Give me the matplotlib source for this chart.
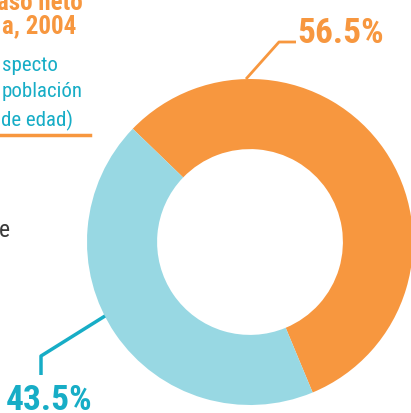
import matplotlib
matplotlib.use("Agg")
import matplotlib.pyplot as plt
from matplotlib import font_manager

labels = ["56.5%", "43.5%"]
shares = [56.5, 43.5]
colors = ["#F7973F", "#98D8E3"]
text_colors = ["#F7973F", "#17ADC6"]

# only the parts of the header that show inside the crop
title_lines = ["aso neto", "a, 2004"]
note_lines = ["specto", "población", "de edad)"]

names = {f.name for f in font_manager.fontManager.ttflist}
fam = "Roboto Condensed" if "Roboto Condensed" in names else "Roboto"
plt.rcParams["font.family"] = [fam, "DejaVu Sans"]

W, H = 411, 414
fig = plt.figure(figsize=(W / 100, H / 100), dpi=100)
ax = fig.add_axes([0, 0, 1, 1])


def py(y):
    # image row -> data y
    return H - y


cx, cy, r = 250, py(243), 163
ax.pie(shares, colors=colors, startangle=136, counterclock=False,
       center=(cx, cy), radius=r, wedgeprops=dict(width=r * 0.43, linewidth=0),
       frame=True)
ax.set_xlim(0, W)
ax.set_ylim(0, H)
ax.set_aspect("equal")
ax.axis("off")

# leader lines
ax.plot([246, 279, 296], [py(80), py(43), py(43)], color=text_colors[0], lw=2,
        solid_capstyle="butt")
ax.plot([105, 41, 41], [py(317), py(357), py(376)], color=text_colors[1], lw=2.5,
        solid_capstyle="butt")

ax.text(384, py(43), labels[0], color=text_colors[0], fontsize=25.5,
        fontweight="bold", ha="right", va="baseline")
ax.text(92, py(410), labels[1], color=text_colors[1], fontsize=25.5,
        fontweight="bold", ha="right", va="baseline")

# header text (cut by the crop)
ax.text(83, py(10), title_lines[0], color=text_colors[0], fontsize=18,
        fontweight="bold", ha="right", va="baseline")
ax.text(76, py(33), title_lines[1], color=text_colors[0], fontsize=18,
        fontweight="bold", ha="right", va="baseline")
for txt, x, y in zip(note_lines, [58, 83, 73], [71, 97, 126]):
    ax.text(x, py(y), txt, color=text_colors[1], fontsize=15,
            ha="right", va="baseline")
ax.plot([0, 90], [py(136), py(136)], color=text_colors[0], lw=2.5)

ax.text(10, py(237), "e", color="#3a3a3a", fontsize=17, ha="right",
        va="baseline")

fig.savefig("out.png", dpi=100)
